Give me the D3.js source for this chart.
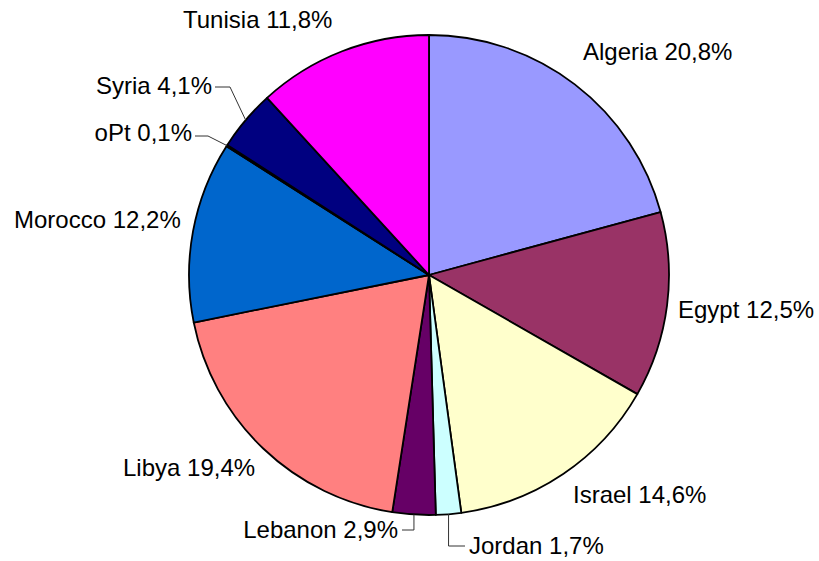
<!DOCTYPE html>
<html>
<head>
<meta charset="utf-8">
<script src="https://cdn.jsdelivr.net/npm/d3@7"></script>
<style>
  body { margin: 0; background: #fff; }
  text { font-family: "Liberation Sans", Arial, sans-serif; }
</style>
</head>
<body>
<div id="chart"></div>
<script>
// shares in %, clockwise from 12 o'clock
var countries = ["Algeria", "Egypt", "Israel", "Jordan", "Lebanon", "Libya", "Morocco", "oPt", "Syria", "Tunisia"];
var shares = [20.8, 12.5, 14.6, 1.7, 2.9, 19.4, 12.2, 0.1, 4.1, 11.8];
var colors = ["#9999ff", "#993366", "#ffffcc", "#ccffff", "#660066", "#ff8080", "#0066cc", "#ccccff", "#000080", "#ff00ff"];

var width = 819, height = 561;
var cx = 429, cy = 275, r = 240;

// label placement: [x, baseline y, anchor, leader elbow or null]
var labelPos = {
  Algeria: [583, 60, "start", null],
  Egypt:   [678, 318, "start", null],
  Israel:  [573, 503, "start", null],
  Jordan:  [469, 554, "start", "down"],
  Lebanon: [398, 538, "end", "down"],
  Libya:   [123, 476, "start", null],
  Morocco: [14, 228, "start", null],
  oPt:     [192, 141, "end", [208, 136]],
  Syria:   [212, 94, "end", [230, 87]],
  Tunisia: [183, 28, "start", null]
};

var data = countries.map(function(c, i) { return {name: c, val: shares[i], color: colors[i]}; });

var svg = d3.select("#chart").append("svg")
    .attr("width", width)
    .attr("height", height);

var g = svg.append("g")
    .attr("transform", "translate(" + cx + "," + cy + ")");

var pie = d3.pie().sort(null).value(function(d) { return d.val; });
var arc = d3.arc().innerRadius(0).outerRadius(r);
var arcs = pie(data);

g.selectAll("path.slice")
  .data(arcs)
  .enter().append("path")
    .attr("class", "slice")
    .attr("d", arc)
    .attr("fill", function(d) { return d.data.color; })
    .attr("stroke", "#000")
    .attr("stroke-width", 1.8)
    .attr("stroke-linejoin", "round");

function edgePoint(d) {
  var a = (d.startAngle + d.endAngle) / 2;
  return [Math.sin(a) * r, -Math.cos(a) * r];
}

// leader lines
arcs.forEach(function(d) {
  var p = labelPos[d.data.name];
  if (!p[3]) return;
  var e = edgePoint(d);
  var pts;
  if (p[3] === "down") {
    var ly = p[1] - 8 - cy;
    var lx = (p[2] === "start" ? p[0] - 4 : p[0] + 4) - cx;
    pts = [e, [e[0], ly], [lx, ly]];
  } else {
    var ex = p[3][0] - cx, ey = p[3][1] - cy;
    pts = [e, [ex, ey], [p[0] + 3 - cx, ey]];
  }
  g.append("path")
    .attr("d", d3.line()(pts))
    .attr("fill", "none")
    .attr("stroke", "#333")
    .attr("stroke-width", 1);
});

svg.selectAll("text.lbl")
  .data(arcs)
  .enter().append("text")
    .attr("class", "lbl")
    .attr("x", function(d) { return labelPos[d.data.name][0]; })
    .attr("y", function(d) { return labelPos[d.data.name][1]; })
    .attr("text-anchor", function(d) { return labelPos[d.data.name][2]; })
    .style("font-size", "24px")
    .attr("fill", "#000")
    .text(function(d) { return d.data.name + " " + d.data.val.toFixed(1).replace(".", ",") + "%"; });
</script>
</body>
</html>
